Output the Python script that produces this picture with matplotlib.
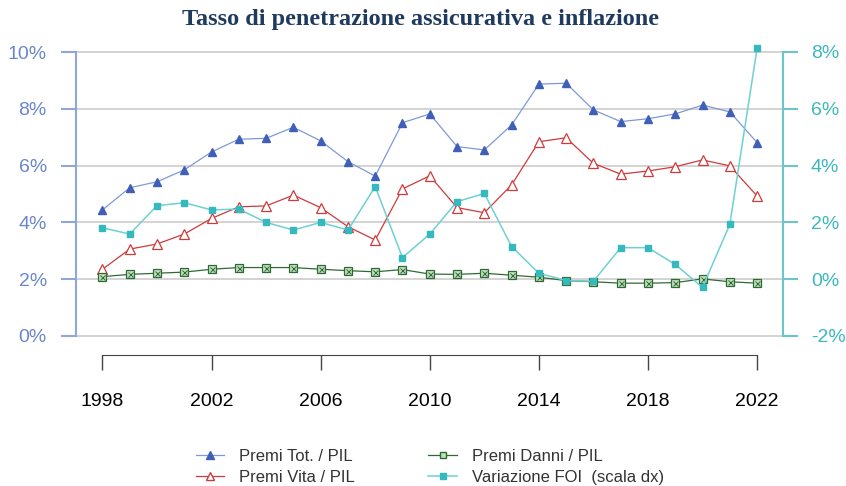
import numpy as np
import matplotlib
matplotlib.use("Agg")
import matplotlib.pyplot as plt
from matplotlib.ticker import FuncFormatter
from matplotlib.lines import Line2D

years = list(range(1998, 2023))

premi_tot = [4.44, 5.22, 5.43, 5.85, 6.48, 6.93, 6.96, 7.35, 6.87, 6.14, 5.63, 7.51, 7.82,
             6.67, 6.55, 7.43, 8.87, 8.90, 7.96, 7.55, 7.65, 7.82, 8.13, 7.89, 6.81]
premi_vita = [2.35, 3.06, 3.24, 3.59, 4.14, 4.55, 4.58, 4.96, 4.52, 3.85, 3.38, 5.18, 5.64,
              4.52, 4.34, 5.32, 6.84, 6.98, 6.08, 5.70, 5.81, 5.96, 6.20, 5.99, 4.93]
premi_danni = [2.09, 2.17, 2.21, 2.25, 2.35, 2.41, 2.41, 2.41, 2.35, 2.30, 2.26, 2.34, 2.18,
               2.17, 2.21, 2.14, 2.07, 1.95, 1.91, 1.86, 1.86, 1.88, 2.01, 1.91, 1.86]
var_foi = [1.81, 1.59, 2.59, 2.69, 2.44, 2.47, 2.00, 1.73, 2.00, 1.73, 3.26, 0.76, 1.59,
           2.73, 3.02, 1.15, 0.21, -0.05, -0.07, 1.11, 1.11, 0.52, -0.29, 1.93, 8.13]

x_ticks = [1998, 2002, 2006, 2010, 2014, 2018, 2022]

c_blue_line, c_blue_mk = "#7F99D6", "#3F5FB8"
c_red = "#D03A3A"
c_green, c_green_face = "#2E6B34", "#C4E0BF"
c_cyan_line, c_cyan_mk = "#6FD0D2", "#36B9BE"
c_left, c_left_spine = "#6A86CC", "#8FA6D8"
c_right, c_right_spine = "#3DB8BC", "#6CC5C8"

fig = plt.figure(figsize=(8.46, 4.86), dpi=100)
ax = fig.add_axes([76 / 846, 1 - 336 / 486, (783 - 76) / 846, (336 - 52) / 486])
ax2 = ax.twinx()

ax.plot(years, premi_tot, color=c_blue_line, lw=0.9, marker="^", ms=5.5,
        mfc=c_blue_mk, mec=c_blue_mk, clip_on=False)
ax.plot(years, premi_vita, color=c_red, lw=0.9, marker="^", ms=6.5,
        mfc="white", mec=c_red, mew=0.9, clip_on=False)
ax.plot(years, premi_danni, color=c_green, lw=0.9, marker="s", ms=5.6,
        mfc=c_green_face, mec=c_green, mew=0.9, clip_on=False)
ax.plot(years, premi_danni, ls="none", marker="x", ms=3.6, mec=c_green, mew=0.7,
        clip_on=False)
ax2.plot(years, var_foi, color=c_cyan_line, lw=1.1, marker="s", ms=5,
         mfc=c_cyan_mk, mec=c_cyan_mk, clip_on=False)

ax.set_xlim(1997.03, 2022.95)
ax.set_ylim(0, 10)
ax2.set_ylim(-2, 8)
ax.set_yticks([0, 2, 4, 6, 8, 10])
ax2.set_yticks([-2, 0, 2, 4, 6, 8])
pct = FuncFormatter(lambda v, p: "%d%%" % v)
ax.yaxis.set_major_formatter(pct)
ax2.yaxis.set_major_formatter(pct)

ax.grid(axis="y", color="#D0D0D0", lw=1.3)
for gl in ax.get_ygridlines():
    gl.set_clip_on(False)
ax.set_axisbelow(True)

for s in ["top", "right"]:
    ax.spines[s].set_visible(False)
for s in ["top", "left", "bottom"]:
    ax2.spines[s].set_visible(False)
ax.spines["left"].set_color(c_left_spine)
ax.spines["left"].set_linewidth(1.5)
ax2.spines["right"].set_color(c_right_spine)
ax2.spines["right"].set_linewidth(1.5)

ax.spines["bottom"].set_position(("outward", 13.5))
ax.spines["bottom"].set_bounds(1998, 2022)
ax.spines["bottom"].set_color("#444444")
ax.set_xticks(x_ticks)
ax.set_xticklabels([str(y) for y in x_ticks])
ax.tick_params(axis="x", direction="out", length=10.5, width=1, color="#444444",
               pad=17, labelsize=14, labelcolor="black")
ax.tick_params(axis="y", direction="out", length=11, width=1.5, color=c_left_spine,
               pad=10, labelsize=14, labelcolor=c_left)
ax2.tick_params(axis="y", direction="out", length=11, width=1.5, color=c_right_spine,
                pad=9, labelsize=14, labelcolor=c_right)

for lab in ax.get_xticklabels() + ax.get_yticklabels() + ax2.get_yticklabels():
    lab.set_fontfamily("Liberation Sans")

fig.text(0.497, 1 - 20 / 486, "Tasso di penetrazione assicurativa e inflazione",
         ha="center", va="center", fontsize=17.5, fontweight="bold",
         family="Liberation Serif", color="#1F3A5F")

h_tot = Line2D([], [], color=c_blue_line, lw=0.9, marker="^", ms=5.5,
               mfc=c_blue_mk, mec=c_blue_mk)
h_vita = Line2D([], [], color=c_red, lw=0.9, marker="^", ms=6,
                mfc="white", mec=c_red)
h_danni = Line2D([], [], color=c_green, lw=0.9, marker="s", ms=5,
                 mfc=c_green_face, mec=c_green)
h_foi = Line2D([], [], color=c_cyan_line, lw=1.1, marker="s", ms=4.5,
               mfc=c_cyan_mk, mec=c_cyan_mk)
leg = fig.legend([h_tot, h_vita, h_danni, h_foi],
                 ["Premi Tot. / PIL", "Premi Vita / PIL", "Premi Danni / PIL",
                  "Variazione FOI  (scala dx)"],
                 ncol=2, loc="center", bbox_to_anchor=(430 / 846, 1 - 467 / 486),
                 frameon=False, handlelength=1.7, handletextpad=0.9,
                 columnspacing=4.4, labelspacing=0.35,
                 prop={"family": "Liberation Sans", "size": 12})
for t in leg.get_texts():
    t.set_color("#333333")

fig.savefig("out.png", dpi=100)
